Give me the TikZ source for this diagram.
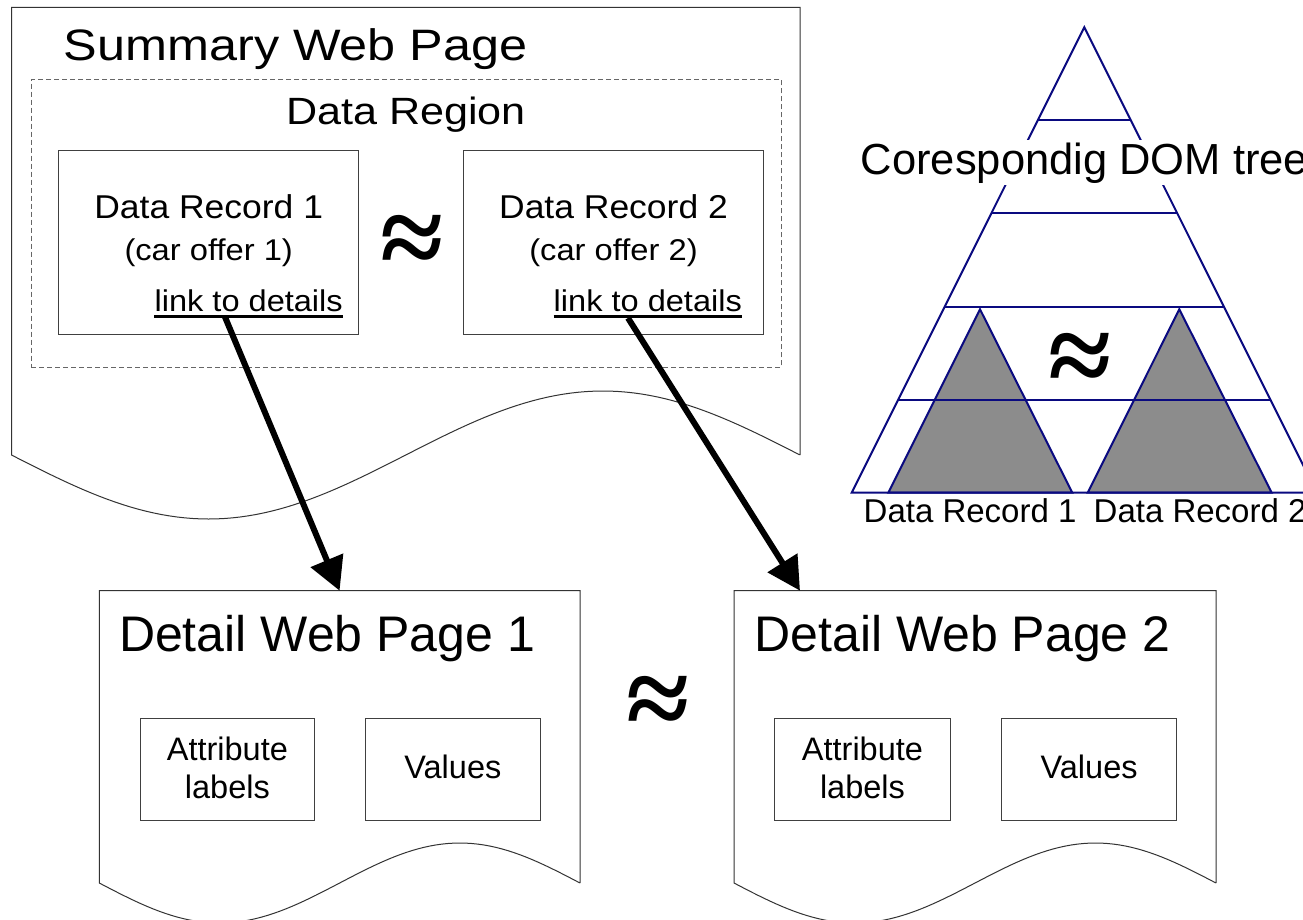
\documentclass[tikz,border=0pt]{standalone}
\usepackage{fontspec}
\setmainfont{Liberation Sans}
\newfontfamily\apxfont{Liberation Serif}
\usepackage{graphicx}
\usetikzlibrary{arrows.meta}
\newcommand\setfs[1]{\fontsize{#1pt}{#1pt}\selectfont}
\newcommand\hx[2]{\scalebox{#1}[1]{#2}}

\definecolor{treeblue}{RGB}{10,10,128}
\definecolor{treegray}{RGB}{140,140,140}

\tikzset{
  pageline/.style={draw=black!80,line width=1pt},
  boxline/.style={draw=black!75,line width=1pt,inner sep=0pt},
  regionline/.style={draw=black!60,line width=1pt,dash pattern=on 5pt off 3pt,inner sep=0pt},
  txt/.style={inner sep=0pt,anchor=base},
  linkarrow/.style={line width=6pt,-{Triangle[length=33pt,width=34pt]}},
  treeline/.style={draw=treeblue,line width=2pt},
  subtree/.style={draw=treeblue,line width=2pt,fill=treegray},
  apx/.style={inner sep=0pt,anchor=center,font=\apxfont\bfseries\setfs{115}},
}

\begin{document}
\begin{tikzpicture}[x=1pt,y=-1pt]
\useasboundingbox (0,0) rectangle (1303,919);
\clip (0,0) rectangle (1303,919);
\fill[white] (0,0) rectangle (1303,919);

% ---------- Summary web page ----------
\draw[pageline] (800,455) -- (800,7.3) -- (11.5,7.3) -- (11.5,455)
  -- plot[domain=0:1,samples=101] ({11.5+788.5*\x},{455+64*sin(360*\x)});
\node[txt,anchor=base west,font=\setfs{44}] (sumtitle) at (63.5,60) {\hx{1.145}{Summary Web Page}};

\node[regionline,minimum width=749.6pt,minimum height=288.4pt] (region) at (406.2,223.5) {};
\node[txt,font=\setfs{38}] (regiontitle) at (406,124) {\hx{1.135}{Data Region}};

\node[boxline,minimum width=300.2pt,minimum height=183.3pt] (rec1) at (208.7,242.35) {};
\node[boxline,minimum width=300.2pt,minimum height=183.3pt] (rec2) at (613.5,242.35) {};

\node[txt,font=\setfs{33}] (rec1a) at (208.7,218.3) {\hx{1.075}{Data Record 1}};
\node[txt,font=\setfs{30}] (rec1b) at (208.7,260.4) {\hx{1.09}{(car offer 1)}};
\node[txt,font=\setfs{30}] (link1) at (248.7,311.7) {\hx{1.085}{link to details}};
\draw[line width=2.5pt] ([yshift=-5pt]link1.base west) -- ([yshift=-5pt]link1.base east);

\node[txt,font=\setfs{33}] (rec2a) at (613.5,218.3) {\hx{1.075}{Data Record 2}};
\node[txt,font=\setfs{30}] (rec2b) at (613.5,260.4) {\hx{1.09}{(car offer 2)}};
\node[txt,font=\setfs{30}] (link2) at (647.8,311.7) {\hx{1.085}{link to details}};
\draw[line width=2.5pt] ([yshift=-5pt]link2.base west) -- ([yshift=-5pt]link2.base east);

\node[apx] (sim1) at (412,246) {≈};

% ---------- Detail web pages ----------
\draw[pageline] (580,883) -- (580,590.7) -- (99.3,590.7) -- (99.3,883)
  -- plot[domain=0:1,samples=81] ({99.3+480.7*\x},{883+40*sin(360*\x)});
\draw[pageline] (1216,883) -- (1216,590.7) -- (734,590.7) -- (734,883)
  -- plot[domain=0:1,samples=81] ({734+482*\x},{883+40*sin(360*\x)});
\coordinate (top1) at (339.6,590.7);
\coordinate (top2) at (800,590.7);

\node[txt,font=\setfs{50}] (det1) at (327,651.7) {Detail Web Page 1};
\node[txt,font=\setfs{50}] (det2) at (962.5,651.7) {Detail Web Page 2};

\node[boxline,minimum width=174.7pt,minimum height=102.4pt] (attr1) at (227.35,769.5) {};
\node[boxline,minimum width=174.3pt,minimum height=102.4pt] (val1) at (452.85,769.5) {};
\node[txt,font=\setfs{32.5}] (attr1a) at (227.35,760) {Attribute};
\node[txt,font=\setfs{32.5}] (attr1b) at (227.35,798.3) {labels};
\node[txt,font=\setfs{32.5}] (val1a) at (452.85,778.3) {Values};

\node[boxline,minimum width=175.5pt,minimum height=102.4pt] (attr2) at (862.45,769.5) {};
\node[boxline,minimum width=175.2pt,minimum height=102.4pt] (val2) at (1089.1,769.5) {};
\node[txt,font=\setfs{32.5}] (attr2a) at (862.45,760) {Attribute};
\node[txt,font=\setfs{32.5}] (attr2b) at (862.45,798.3) {labels};
\node[txt,font=\setfs{32.5}] (val2a) at (1089.1,778.3) {Values};

\node[apx] (sim2) at (658,707) {≈};

% ---------- arrows ----------
\coordinate (from1) at (225,317);
\coordinate (from2) at (628,318);
\draw[linkarrow] (from1) -- (top1);
\draw[linkarrow] (from2) -- (top2);

% ---------- DOM tree ----------
\draw[subtree] (980,309.3) -- (888.3,492.7) -- (1072.3,492.7) -- cycle;
\draw[subtree] (1179.3,309.3) -- (1087.7,492.7) -- (1271.7,492.7) -- cycle;
\draw[treeline,line join=miter] (851.7,492.7) -- (1084.3,27.3) -- (1316.9,492.7) -- cycle;
\draw[treeline] (1038,120) -- (1130.6,120);
\draw[treeline] (991.3,213.3) -- (1177.3,213.3);
\draw[treeline] (944.6,306.7) -- (1224,306.7);
\draw[treeline] (898,400) -- (1270.6,400);

\node[apx] (sim3) at (1080,363.5) {≈};

\node[txt,anchor=base west,font=\setfs{43.5},fill=white,inner ysep=2pt] (domtitle) at (860.6,174) {Corespondig DOM tree};
\node[txt,anchor=base west,font=\setfs{33}] (dr1) at (863.5,522.7) {Data Record 1};
\node[txt,anchor=base west,font=\setfs{33}] (dr2) at (1093.5,522.7) {Data Record 2};
\end{tikzpicture}
\end{document}
